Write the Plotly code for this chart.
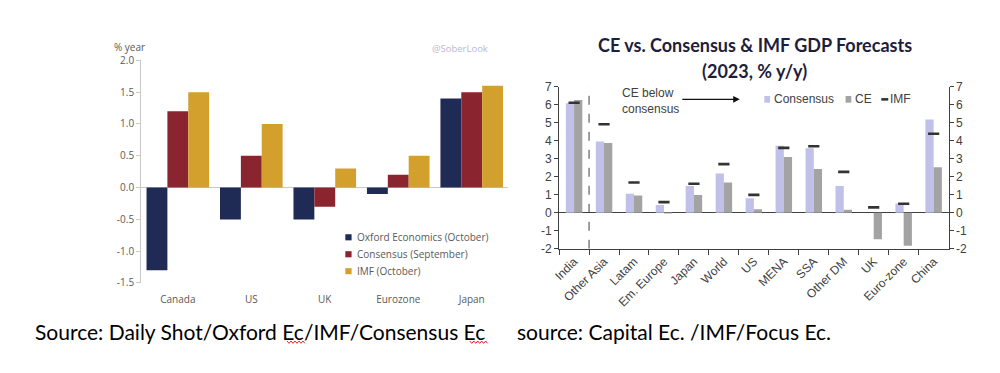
import plotly.graph_objects as go

# ---------------- data: left chart ----------------
left_categories = ["Canada", "US", "UK", "Eurozone", "Japan"]
oxford_oct = [-1.3, -0.5, -0.5, -0.1, 1.4]
consensus_sep = [1.2, 0.5, -0.3, 0.2, 1.5]
imf_oct = [1.5, 1.0, 0.3, 0.5, 1.6]
left_series_names = ["Oxford Economics (October)", "Consensus (September)", "IMF (October)"]
left_yticks = [-1.5, -1.0, -0.5, 0.0, 0.5, 1.0, 1.5, 2.0]
left_ytick_labels = ["-1.5", "-1.0", "-0.5", "0.0", "0.5", "1.0", "1.5", "2.0"]
left_yrange = [-1.5, 2.0]

# ---------------- data: right chart ----------------
right_categories = ["India", "Other Asia", "Latam", "Em. Europe", "Japan", "World", "US",
                    "MENA", "SSA", "Other DM", "UK", "Euro-zone", "China"]
consensus = [6.08, 3.95, 1.05, 0.43, 1.49, 2.18, 0.80, 3.72, 3.58, 1.49, None, 0.51, 5.18]
ce = [6.26, 3.87, 0.96, -0.04, 0.99, 1.68, 0.20, 3.09, 2.43, 0.16, -1.47, -1.83, 2.52]
imf = [6.10, 4.91, 1.68, 0.59, 1.61, 2.70, 0.99, 3.60, 3.69, 2.27, 0.30, 0.50, 4.38]
right_yticks = [-2, -1, 0, 1, 2, 3, 4, 5, 6, 7]
right_ytick_labels = ["-2", "-1", "0", "1", "2", "3", "4", "5", "6", "7"]
right_yrange = [-2, 7]

# The page body keeps the browser's default 8px margin, so the figure is
# 16px smaller than the window and all page positions are shifted by 8px.
PAGE_MARGIN = 8
W, H = 1000 - 2 * PAGE_MARGIN, 373 - 2 * PAGE_MARGIN


def px(x):
    return (x - PAGE_MARGIN) / W


def py(y):
    return 1 - (y - PAGE_MARGIN) / H


NAVY, RED, GOLD = "#1f2b54", "#8a252f", "#d3a02e"
LAV, GREY, DARK = "#c0c0e8", "#a3a3a3", "#333333"
LGREY_TXT = "#595959"
LGREY_AX = "#c8c8c8"
AX_R = "#404040"

fig = go.Figure()

# left chart bars (explicit widths/offsets -> 3 bars filling ~85% of a slot)
bw = 0.284
for vals, name, col, off in [(oxford_oct, left_series_names[0], NAVY, -1.5 * bw),
                              (consensus_sep, left_series_names[1], RED, -0.5 * bw),
                              (imf_oct, left_series_names[2], GOLD, 0.5 * bw)]:
    fig.add_trace(go.Bar(x=left_categories, y=vals, name=name, marker_color=col,
                         marker_line_width=0, width=bw, offset=off,
                         xaxis="x", yaxis="y", showlegend=False))

# right chart bars
rbw = 0.275
fig.add_trace(go.Bar(x=right_categories, y=consensus, name="Consensus", marker_color=LAV,
                     marker_line_width=0, width=rbw, offset=-rbw,
                     xaxis="x2", yaxis="y2", showlegend=False))
fig.add_trace(go.Bar(x=right_categories, y=ce, name="CE", marker_color=GREY,
                     marker_line_width=0, width=rbw, offset=0,
                     xaxis="x2", yaxis="y2", showlegend=False))
fig.add_trace(go.Scatter(x=right_categories, y=imf, name="IMF", mode="markers",
                         marker=dict(symbol="line-ew", size=8, line=dict(width=2.6, color=DARK)),
                         xaxis="x2", yaxis="y3", showlegend=False))

left_font = dict(family="Open Sans", size=10, color=LGREY_TXT)
right_font = dict(family="Liberation Sans", size=12, color=AX_R)

left_ydom = [py(286.7), py(54.3)]
# paper position of the zero line of the left chart (for the boundary tick marks)
zero_pos = left_ydom[0] + (0 - left_yrange[0]) / (left_yrange[1] - left_yrange[0]) * (left_ydom[1] - left_ydom[0])
n_left = len(left_categories)

fig.update_layout(
    width=W, height=H,
    margin=dict(l=0, r=0, t=0, b=0),
    paper_bgcolor="white", plot_bgcolor="white",
    barmode="overlay",
    xaxis=dict(domain=[px(135), px(505)], anchor="y", type="category",
               range=[-0.5, n_left - 0.5], showline=False, ticks="", showgrid=False,
               tickfont=left_font, ticklabelstandoff=9),
    xaxis3=dict(overlaying="x", anchor="free", position=zero_pos, type="linear",
                range=[-0.5, n_left - 0.5], tickvals=[i + 0.5 for i in range(n_left - 1)],
                ticks="outside", ticklen=4, tickcolor=LGREY_AX, showticklabels=False,
                showline=False, showgrid=False, zeroline=False),
    yaxis=dict(domain=left_ydom, anchor="x", range=left_yrange,
               tickvals=left_yticks, ticktext=left_ytick_labels,
               showline=True, linecolor=LGREY_AX, linewidth=1,
               ticks="outside", ticklen=4, tickcolor=LGREY_AX,
               showgrid=False, zeroline=True, zerolinecolor=LGREY_AX, zerolinewidth=1,
               tickfont=left_font),
    xaxis2=dict(domain=[px(556), px(948.3)], anchor="y2", type="category",
                range=[-0.5, 12.5], showline=True, linecolor=AX_R, linewidth=1,
                ticks="outside", tickson="boundaries", ticklen=5, tickcolor=AX_R,
                tickangle=-45, showgrid=False, tickfont=right_font),
    yaxis2=dict(domain=[py(251), py(81.7)], anchor="x2", range=right_yrange,
                tickvals=right_yticks, ticktext=right_ytick_labels,
                showline=True, linecolor=AX_R, linewidth=1,
                ticks="outside", ticklen=4, tickcolor=AX_R, showgrid=False,
                zeroline=True, zerolinecolor=AX_R, zerolinewidth=1,
                tickfont=right_font),
    yaxis3=dict(overlaying="y2", side="right", anchor="x2", range=right_yrange,
                tickvals=right_yticks, ticktext=right_ytick_labels,
                showline=True, linecolor=AX_R, linewidth=1,
                ticks="outside", ticklen=4, tickcolor=AX_R, showgrid=False,
                zeroline=False, tickfont=right_font),
)

shapes = []
# dashed separator between India and the rest
shapes.append(dict(type="line", xref="x2", yref="y2", x0=0.5, x1=0.5,
                   y0=right_yrange[0], y1=right_yrange[1],
                   line=dict(color=AX_R, width=1, dash="dash")))

annotations = []
# left chart texts
annotations.append(dict(text="% year", x=px(106), y=py(40), xref="paper", yref="paper",
                        xanchor="left", yanchor="middle", showarrow=False, font=left_font))
annotations.append(dict(text="@SoberLook", x=px(456), y=py(42), xref="paper", yref="paper",
                        xanchor="center", yanchor="middle", showarrow=False,
                        font=dict(family="Open Sans", size=9.5, color="#b8b8d4")))
# left legend
for i, (name, col) in enumerate(zip(left_series_names, [NAVY, RED, GOLD])):
    yc = 239 + i * 17.7
    shapes.append(dict(type="rect", xref="paper", yref="paper",
                       x0=px(340.7), x1=px(347), y0=py(yc + 3.2), y1=py(yc - 3.2),
                       fillcolor=col, line_width=0))
    annotations.append(dict(text=name, x=px(350.5), y=py(yc), xref="paper", yref="paper",
                            xanchor="left", yanchor="middle", showarrow=False, font=left_font))

# right chart title
title_font = dict(family="Lato", size=18, color="#1e1e3c")
annotations.append(dict(text="<b>CE vs. Consensus & IMF GDP Forecasts</b>", x=px(753), y=py(38),
                        xref="paper", yref="paper", xanchor="center", yanchor="middle",
                        showarrow=False, font=title_font))
annotations.append(dict(text="<b>(2023, % y/y)</b>", x=px(753), y=py(65),
                        xref="paper", yref="paper", xanchor="center", yanchor="middle",
                        showarrow=False, font=title_font))
# CE below consensus note + arrow
annotations.append(dict(text="CE below<br>consensus", x=px(617), y=py(97), xref="paper", yref="paper",
                        xanchor="left", yanchor="middle", align="left", showarrow=False,
                        font=right_font))
annotations.append(dict(x=px(738), y=py(95), ax=-59, ay=0, xref="paper", yref="paper",
                        axref="pixel", ayref="pixel", text="", showarrow=True,
                        arrowhead=2, arrowsize=1.1, arrowwidth=1.2, arrowcolor="#111111"))
# right legend
shapes.append(dict(type="rect", xref="paper", yref="paper", x0=px(762.7), x1=px(768.5),
                   y0=py(98.5), y1=py(91.5), fillcolor=LAV, line_width=0))
annotations.append(dict(text="Consensus", x=px(770.5), y=py(95), xref="paper", yref="paper",
                        xanchor="left", yanchor="middle", showarrow=False, font=right_font))
shapes.append(dict(type="rect", xref="paper", yref="paper", x0=px(844.5), x1=px(850.3),
                   y0=py(98.5), y1=py(91.5), fillcolor=GREY, line_width=0))
annotations.append(dict(text="CE", x=px(852.3), y=py(95), xref="paper", yref="paper",
                        xanchor="left", yanchor="middle", showarrow=False, font=right_font))
shapes.append(dict(type="line", xref="paper", yref="paper", x0=px(880.5), x1=px(887.5),
                   y0=py(95), y1=py(95), line=dict(color=DARK, width=2.6)))
annotations.append(dict(text="IMF", x=px(887.5), y=py(95), xref="paper", yref="paper",
                        xanchor="left", yanchor="middle", showarrow=False, font=right_font))

# source lines
src_font = dict(family="Lato", size=21, color="#000000")
annotations.append(dict(text="Source: Daily Shot/Oxford Ec/IMF/Consensus Ec", x=px(26), y=py(337.5),
                        xref="paper", yref="paper", xanchor="left", yanchor="middle",
                        showarrow=False, font=src_font))
annotations.append(dict(text="source: Capital Ec. /IMF/Focus Ec.", x=px(512), y=py(337.5),
                        xref="paper", yref="paper", xanchor="left", yanchor="middle",
                        showarrow=False, font=src_font))


# red spell-check squiggles under "Ec"
def squiggle(x0, x1, yc):
    pts = []
    x = x0
    up = True
    while x <= x1:
        pts.append((x, yc - 1.2 if up else yc + 1.2))
        x += 2.0
        up = not up
    d = "M " + " L ".join(f"{px(a):.5f},{py(b):.5f}" for a, b in pts)
    return dict(type="path", xref="paper", yref="paper", path=d,
                line=dict(color="#e02020", width=1))


shapes.append(squiggle(282, 301, 348.5))
shapes.append(squiggle(466, 485, 348.5))

fig.update_layout(shapes=shapes, annotations=annotations)

fig.write_html("out.html", config={"displayModeBar": False})
